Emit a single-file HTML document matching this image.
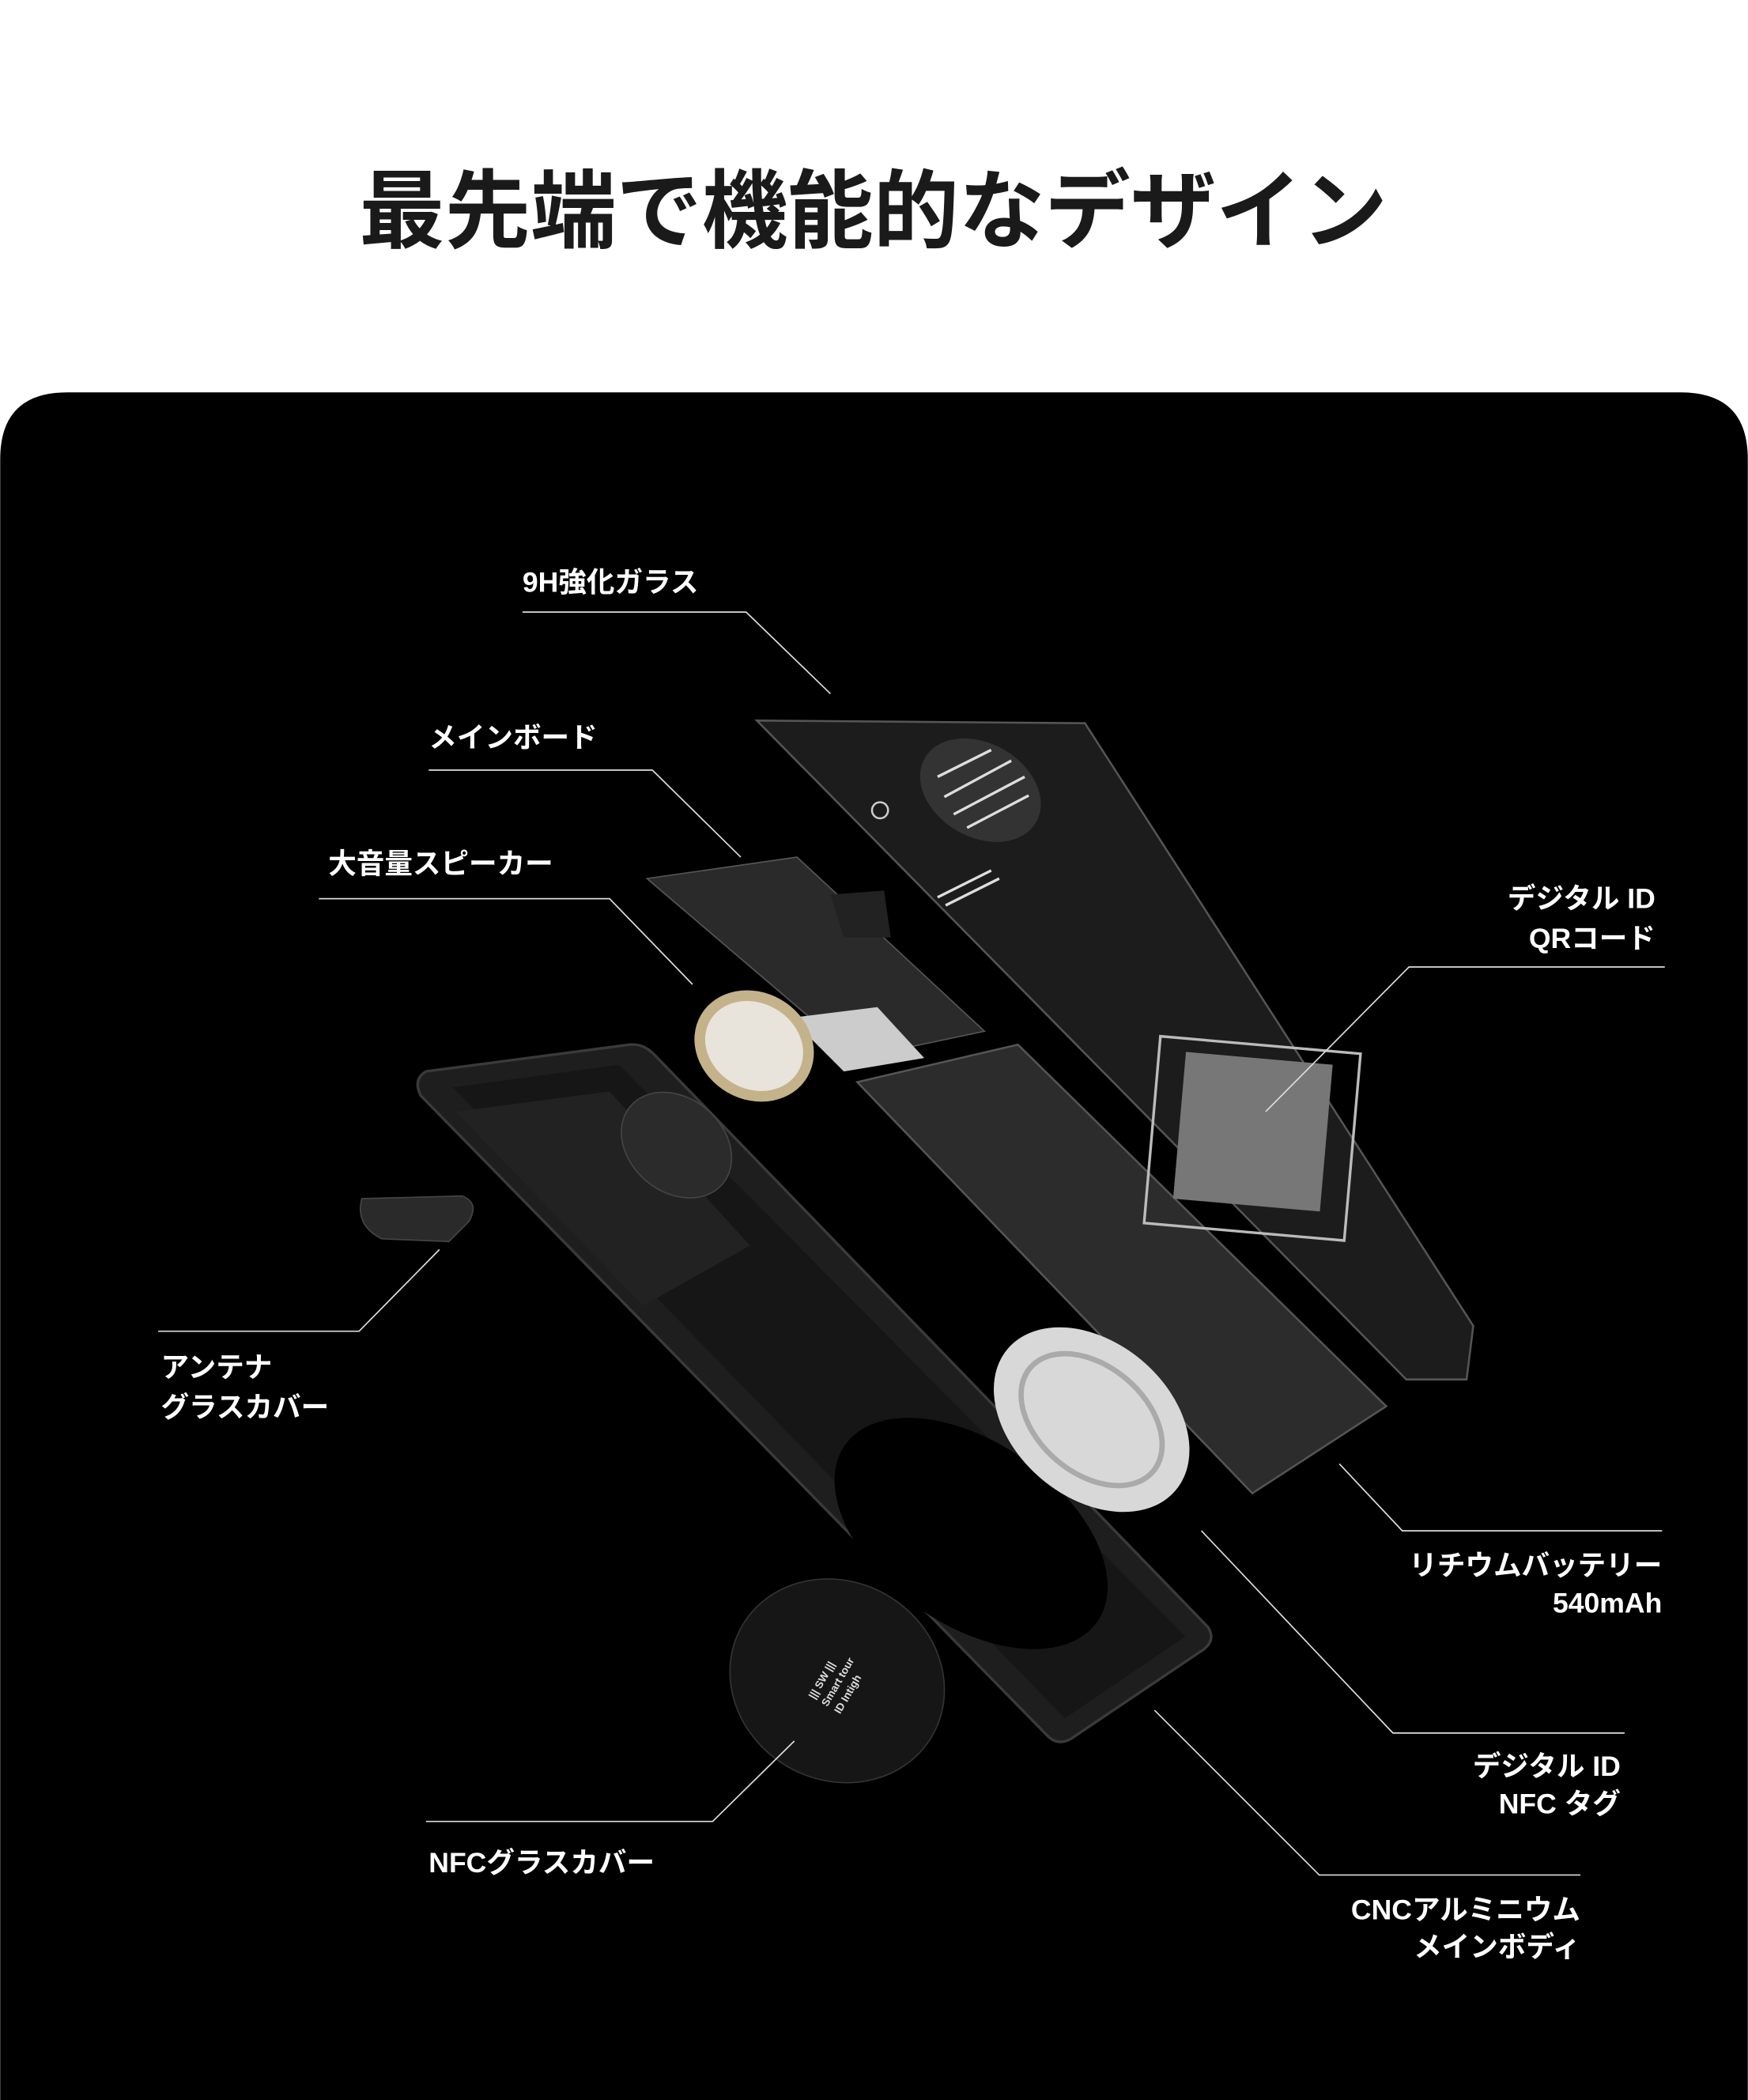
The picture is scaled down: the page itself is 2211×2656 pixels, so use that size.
<!DOCTYPE html>
<html><head><meta charset="utf-8">
<style>
html,body{margin:0;padding:0;background:#fff;}
body{width:2211px;height:2656px;overflow:hidden;}
svg{display:block;overflow:hidden;}
text{font-family:"Liberation Sans","Noto Sans CJK JP",sans-serif;font-weight:bold;}
</style></head><body>
<svg width="2211" height="2656" viewBox="0 0 1305 1568" xmlns="http://www.w3.org/2000/svg">
<rect width="1305" height="1568" fill="#fff"/>
<text x="652" y="180" text-anchor="middle" font-size="64" fill="#1a1a1a">最先端で機能的なデザイン</text>
<path d="M0,343 Q0,293 50,293 L1255,293 Q1305,293 1305,343 L1305,1568 L0,1568 Z" fill="#000"/>

<!-- body -->
<path d="M318,800 L470,780 Q480,779 488,787 L902,1215 Q908,1225 898,1232 L800,1298 Q790,1304 782,1296 L314,818 Q308,806 318,800 Z" fill="#1e1e1e" stroke="#3a3a3a" stroke-width="2"/>
<path d="M338,812 L462,795 L885,1222 L795,1283 Z" fill="#161616"/>
<path d="M340,830 L455,815 L560,930 L480,975 Z" fill="#222"/>
<ellipse cx="505" cy="855" rx="45" ry="35" transform="rotate(40 505 855)" fill="#2b2b2b" stroke="#444"/>
<ellipse cx="725" cy="1145" rx="115" ry="68" transform="rotate(35 725 1145)" fill="#000"/>
<!-- antenna cover -->
<path d="M270,895 L345,893 Q358,898 350,912 L335,927 L285,925 Q265,915 270,895 Z" fill="#2a2a2a" stroke="#444"/>
<!-- NFC glass cover -->
<ellipse cx="625" cy="1255" rx="82" ry="74" transform="rotate(30 625 1255)" fill="#161616" stroke="#333"/>
<g fill="#ddd" font-size="8" transform="rotate(-60 625 1250)"><text x="600" y="1245">||| SW |||</text><text x="600" y="1256">Smart tour</text><text x="600" y="1267">ID Intigh</text></g>
<!-- battery -->
<path d="M640,808 L760,780 L1035,1050 L935,1115 Z" fill="#2c2c2c" stroke="#555" stroke-width="1.5"/>
<!-- NFC tag -->
<ellipse cx="815" cy="1060" rx="82" ry="58" transform="rotate(40 815 1060)" fill="#d8d8d8"/>
<ellipse cx="815" cy="1060" rx="60" ry="40" transform="rotate(40 815 1060)" fill="none" stroke="#aaa" stroke-width="4"/>
<!-- glass panel -->
<path d="M565,538 L810,540 L1100,990 L1095,1030 L1050,1030 Z" fill="#1c1c1c" stroke="#555" stroke-width="1.5"/>
<ellipse cx="732" cy="590" rx="48" ry="35" transform="rotate(30 732 590)" fill="#333"/>
<g stroke="#ddd" stroke-width="2">
<line x1="700" y1="580" x2="740" y2="560"/><line x1="705" y1="595" x2="755" y2="568"/><line x1="712" y1="608" x2="765" y2="580"/><line x1="722" y1="618" x2="768" y2="594"/>
<line x1="700" y1="670" x2="740" y2="650"/><line x1="706" y1="676" x2="746" y2="656"/>
</g>
<circle cx="657" cy="605" r="6" fill="none" stroke="#ccc" stroke-width="1.5"/>
<rect x="860" y="780" width="150" height="140" transform="rotate(5 935 850)" fill="none" stroke="#bbb" stroke-width="2"/>
<rect x="880" y="790" width="110" height="110" transform="rotate(5 935 850)" fill="#777"/>
<!-- mainboard -->
<path d="M483,656 L595,640 L735,770 L640,790 Z" fill="#2a2a2a" stroke="#555"/>
<path d="M590,760 L655,752 L690,790 L630,800 Z" fill="#ccc"/>
<path d="M620,668 L660,665 L665,700 L630,700 Z" fill="#222"/>
<!-- speaker -->
<ellipse cx="563" cy="781" rx="46" ry="40" transform="rotate(30 563 781)" fill="#c4b28a"/>
<ellipse cx="563" cy="781" rx="38" ry="32" transform="rotate(30 563 781)" fill="#e8e4dc"/>

<!-- connector lines -->
<g stroke="#ddd" stroke-width="1" fill="none">
<polyline points="390,457 557,457 620,518"/>
<polyline points="320,575 487,575 553,640"/>
<polyline points="238,671 455,671 517,735"/>
<polyline points="1243,722 1052,722 945,830"/>
<polyline points="118,994 268,994 328,933"/>
<polyline points="1241,1143 1047,1143 1000,1093"/>
<polyline points="1213,1294 1040,1294 897,1143"/>
<polyline points="318,1360 532,1360 593,1300"/>
<polyline points="1180,1400 985,1400 862,1277"/>
</g>
<g fill="#fff" font-size="21">
<text x="390" y="442">9H強化ガラス</text>
<text x="320" y="558">メインボード</text>
<text x="245" y="652">大音量スピーカー</text>
<text x="1236" y="678" text-anchor="end">デジタル ID</text>
<text x="1236" y="708" text-anchor="end">QRコード</text>
<text x="120" y="1028">アンテナ</text>
<text x="120" y="1058">グラスカバー</text>
<text x="1241" y="1176" text-anchor="end">リチウムバッテリー</text>
<text x="1241" y="1204" text-anchor="end">540mAh</text>
<text x="1210" y="1326" text-anchor="end">デジタル ID</text>
<text x="1210" y="1354" text-anchor="end">NFC タグ</text>
<text x="320" y="1398">NFCグラスカバー</text>
<text x="1180" y="1433" text-anchor="end">CNCアルミニウム</text>
<text x="1180" y="1461" text-anchor="end">メインボディ</text>
</g>
</svg>
</body></html>
